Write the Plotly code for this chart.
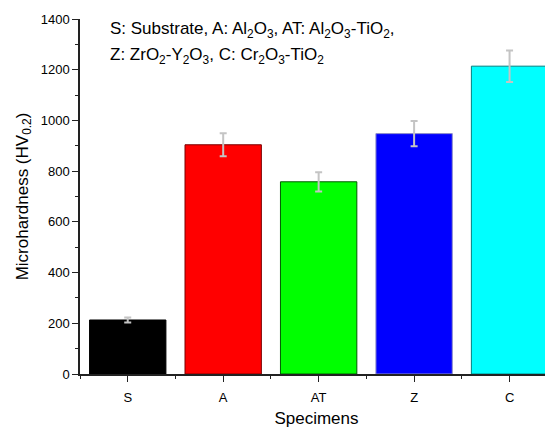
import plotly.graph_objects as go

categories = ["S", "A", "AT", "Z", "C"]
hardness = [213, 904, 758, 948, 1214]
hardness_err = [10, 45, 38, 50, 62]
bar_colors = ["#000000", "#ff0000", "#00ff00", "#0000ff", "#00ffff"]
edge_colors = ["#000000", "#7a0000", "#005a00", "#9090c8", "#008080"]
y_ticks = [0, 200, 400, 600, 800, 1000, 1200, 1400]

xpos = list(range(len(categories)))
FONT = "Liberation Sans, Arial, sans-serif"

# the page body adds an 8px offset; work in figure pixels = reference pixels - 8
OFF = 8
W, H = 553 - OFF, 428 - OFF
left, top = 80 - OFF, 18.5 - OFF
plot_bottom = 374.5 - OFF
bottom = H - plot_bottom
plot_w = W - left

fig = go.Figure()
fig.add_trace(go.Bar(
    x=xpos, y=hardness, width=0.8,
    marker=dict(color=bar_colors, line=dict(color=edge_colors, width=1)),
    error_y=dict(type="data", array=hardness_err, visible=True,
                 color="#c4c4c4", thickness=2, width=3.5),
    showlegend=False,
))

fig.update_layout(
    width=W, height=H,
    margin=dict(l=left, r=0, t=top, b=bottom, pad=0, autoexpand=False),
    plot_bgcolor="white", paper_bgcolor="white",
    font=dict(family=FONT, size=13, color="black"),
    bargap=0.2,
)
fig.update_xaxes(
    range=[-0.5, 4.455], tickmode="array", tickvals=xpos, ticktext=categories,
    showline=True, linecolor="#222222", linewidth=1.5,
    ticks="outside", ticklen=6, tickwidth=1.2, tickcolor="#222222",
    minor=dict(tickmode="array", tickvals=[-0.5, 0.5, 1.5, 2.5, 3.5],
               ticks="outside", ticklen=3, tickwidth=1.2, tickcolor="#222222"),
    showgrid=False, zeroline=False, ticklabelstandoff=5,
    tickfont=dict(size=13, family=FONT),
    title=dict(text="Specimens", font=dict(size=17, family=FONT), standoff=12),
)
fig.update_yaxes(
    range=[0, 1400], tickmode="array", tickvals=y_ticks,
    showline=True, linecolor="#222222", linewidth=1.5,
    ticks="outside", ticklen=6, tickwidth=1.2, tickcolor="#222222",
    minor=dict(dtick=100, ticks="outside", ticklen=3, tickwidth=1.2, tickcolor="#222222"),
    showgrid=False, zeroline=False,
    tickfont=dict(size=13, family=FONT),
    title=dict(text="Microhardness (HV<sub>0.2</sub>)", font=dict(size=17, family=FONT), standoff=8),
)

def px_to_paper_x(px):
    return (px - OFF - left) / plot_w

def px_to_paper_y(py):
    return (plot_bottom - (py - OFF)) / (plot_bottom - top)

fig.add_annotation(
    text="S: Substrate, A: Al<sub>2</sub>O<sub>3</sub>, AT: Al<sub>2</sub>O<sub>3</sub>-TiO<sub>2</sub>,",
    xref="paper", yref="paper", x=px_to_paper_x(108), y=px_to_paper_y(30),
    xanchor="left", yanchor="middle", showarrow=False,
    font=dict(size=17, family=FONT, color="black"),
)
fig.add_annotation(
    text="Z: ZrO<sub>2</sub>-Y<sub>2</sub>O<sub>3</sub>, C: Cr<sub>2</sub>O<sub>3</sub>-TiO<sub>2</sub>",
    xref="paper", yref="paper", x=px_to_paper_x(108), y=px_to_paper_y(56),
    xanchor="left", yanchor="middle", showarrow=False,
    font=dict(size=17, family=FONT, color="black"),
)

fig.write_html("out.html")
